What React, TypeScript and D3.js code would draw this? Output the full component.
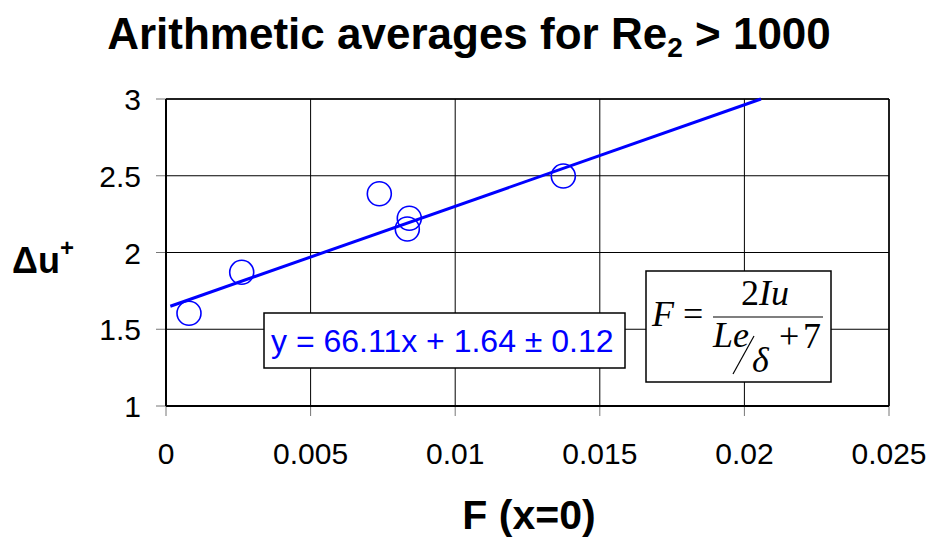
import React from 'react';
import * as d3 from 'd3';

// F (x=0) and delta u+
const fValues = [0.000795, 0.002618, 0.007376, 0.008413, 0.008344, 0.013738];
const duValues = [1.604, 1.871, 2.383, 2.223, 2.153, 2.498];
const xTicks = [0, 0.005, 0.01, 0.015, 0.02, 0.025];
const xTickLabels = ['0', '0.005', '0.01', '0.015', '0.02', '0.025'];
const yTicks = [1, 1.5, 2, 2.5, 3];
const yTickLabels = ['1', '1.5', '2', '2.5', '3'];
const fitSlope = 66.11;
const fitIntercept = 1.64;
const fitStart = 0.00015;

const W = 931;
const H = 539;
const plot = { left: 166, right: 889, top: 99, bottom: 406 };

const App = () => {
    const x = d3.scaleLinear().domain([0, 0.025]).range([plot.left, plot.right]);
    const y = d3.scaleLinear().domain([1, 3]).range([plot.bottom, plot.top]);

    const fitEnd = (3 - fitIntercept) / fitSlope;
    const fitLine = d3.line<number>()
        .x(d => x(d))
        .y(d => y(fitSlope * d + fitIntercept));

    const font = 'Liberation Sans, Arial, sans-serif';
    const serif = 'Liberation Serif, Times New Roman, serif';

    return (
        <svg width={W} height={H} style={{ position: 'absolute', left: 0, top: 0, background: 'white' }}>
            {/* grid */}
            {xTicks.slice(1).map(t => (
                <line key={'gx' + t} x1={x(t)} x2={x(t)} y1={plot.top} y2={plot.bottom} stroke="#000" strokeWidth={1} />
            ))}
            {yTicks.slice(1).map(t => (
                <line key={'gy' + t} x1={plot.left} x2={plot.right} y1={y(t)} y2={y(t)} stroke="#000" strokeWidth={1} />
            ))}
            <line x1={plot.left} x2={plot.right} y1={plot.top} y2={plot.top} stroke="#000" strokeWidth={1.5} />
            <line x1={plot.right} x2={plot.right} y1={plot.top} y2={plot.bottom} stroke="#000" strokeWidth={1.5} />

            {/* ticks */}
            {xTicks.map(t => (
                <line key={'tx' + t} x1={x(t)} x2={x(t)} y1={plot.bottom} y2={plot.bottom + 10} stroke="#777" strokeWidth={1} />
            ))}
            {yTicks.map(t => (
                <line key={'ty' + t} x1={plot.left - 10} x2={plot.left} y1={y(t)} y2={y(t)} stroke="#777" strokeWidth={1} />
            ))}

            {/* axes */}
            <line x1={plot.left} x2={plot.left} y1={plot.top} y2={plot.bottom} stroke="#000" strokeWidth={2} />
            <line x1={plot.left} x2={plot.right} y1={plot.bottom} y2={plot.bottom} stroke="#000" strokeWidth={2} />

            {/* tick labels */}
            {xTicks.map((t, i) => (
                <text key={'lx' + t} x={x(t)} y={464} textAnchor="middle" fontFamily={font} fontSize={30} fill="#000">
                    {xTickLabels[i]}
                </text>
            ))}
            {yTicks.map((t, i) => (
                <text key={'ly' + t} x={141} y={y(t) + 11} textAnchor="end" fontFamily={font} fontSize={30} fill="#000">
                    {yTickLabels[i]}
                </text>
            ))}

            {/* fit line */}
            <path d={fitLine([fitStart, fitEnd]) || ''} fill="none" stroke="#0000ff" strokeWidth={3} />

            {/* points */}
            {fValues.map((f, i) => (
                <circle key={'p' + i} cx={x(f)} cy={y(duValues[i])} r={12} fill="none" stroke="#0000ff" strokeWidth={1.6} />
            ))}

            {/* equation box */}
            <rect x={264} y={313} width={361} height={55} fill="white" stroke="#000" strokeWidth={1.5} />
            <text x={271} y={352} fontFamily={font} fontSize={32} fill="#0000ff">y = 66.11x + 1.64 ± 0.12</text>

            {/* formula box */}
            <rect x={646} y={271} width={185} height={111} fill="white" stroke="#000" strokeWidth={1.5} />
            <g fontFamily={serif} fontSize={36} fill="#000">
                <text x={652} y={326} fontStyle="italic">F</text>
                <text x={683} y={326}>=</text>
                <text x={741} y={305}>2<tspan fontStyle="italic">Iu</tspan></text>
                <line x1={713} x2={823} y1={317} y2={317} stroke="#000" strokeWidth={1.2} />
                <text x={713} y={347} fontStyle="italic">Le</text>
                <line x1={733} y1={374} x2={754} y2={336} stroke="#000" strokeWidth={1.2} />
                <text x={752} y={372} fontStyle="italic">δ</text>
                <text x={779} y={348}>+</text>
                <text x={803} y={348}>7</text>
            </g>

            {/* titles */}
            <text x={469} y={49} textAnchor="middle" fontFamily={font} fontWeight="bold" fontSize={44} fill="#000">
                Arithmetic averages for Re<tspan fontSize={28} dy={8}>2</tspan><tspan dy={-8}> &gt; 1000</tspan>
            </text>
            <text x={12} y={273} fontFamily={font} fontWeight="bold" fontSize={36} fill="#000">
                Δu<tspan fontSize={24} dy={-17}>+</tspan>
            </text>
            <text x={529} y={529} textAnchor="middle" fontFamily={font} fontWeight="bold" fontSize={41} fill="#000">
                F (x=0)
            </text>
        </svg>
    );
};

export default App;
